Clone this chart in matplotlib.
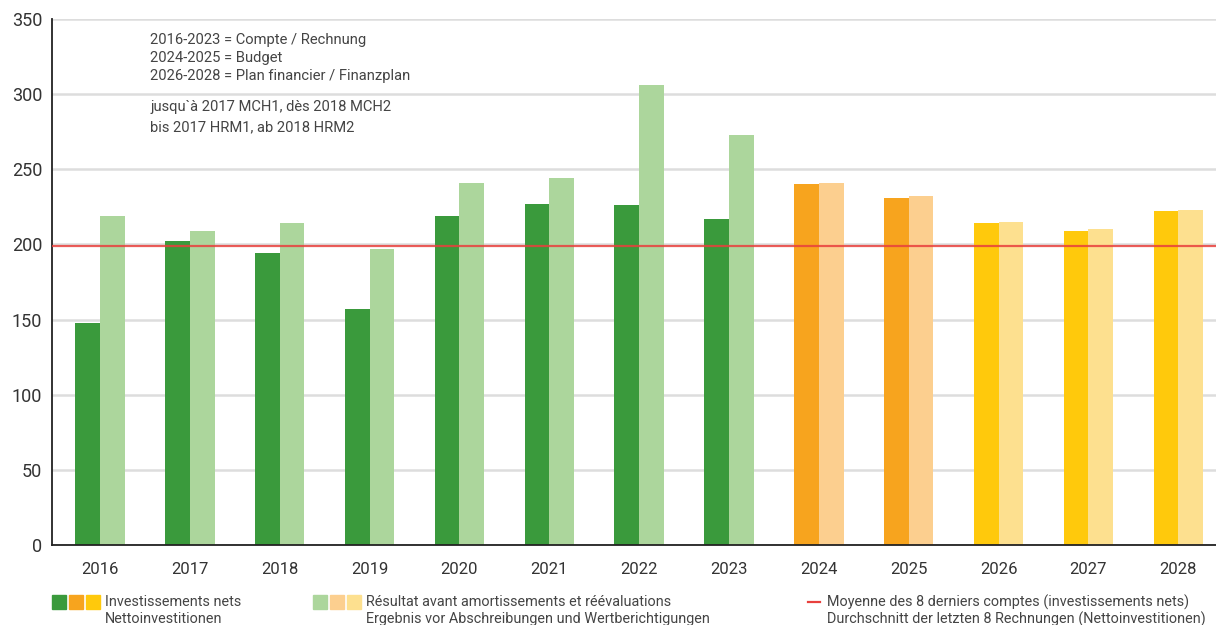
import matplotlib
matplotlib.use("Agg")
import matplotlib.pyplot as plt
import numpy as np
from matplotlib.patches import Rectangle

plt.rcParams["font.family"] = ["Roboto", "DejaVu Sans"]

years = ["2016", "2017", "2018", "2019", "2020", "2021", "2022",
         "2023", "2024", "2025", "2026", "2027", "2028"]
net_invest = [148, 202, 194, 157, 219, 227, 226, 217, 240, 231, 214, 209, 222]
self_fin = [219, 209, 214, 197, 241, 244, 306, 273, 241, 232, 215, 210, 223]
n_accounts = 8  # last 8 accounts -> average line

# compte / budget / plan financier
dark_cols = ["#3a9a3c"] * 8 + ["#f7a41e"] * 2 + ["#ffc90c"] * 3
light_cols = ["#acd69c"] * 8 + ["#fccf8f"] * 2 + ["#fde08f"] * 3

W, H = 1216, 625
fig = plt.figure(figsize=(W / 100, H / 100), dpi=100)
ax = fig.add_axes([52 / W, (H - 545) / H, 1 - 52 / W, (545 - 19) / H])

x = np.arange(len(years))
bw = 0.275
ax.bar(x - bw / 2, net_invest, bw, color=dark_cols, zorder=2)
ax.bar(x + bw / 2, self_fin, bw, color=light_cols, zorder=2)

avg = np.mean(net_invest[:n_accounts])
ax.axhline(avg, color="#e8403d", lw=1.6, alpha=0.85, zorder=3)

ax.set_ylim(0, 350)
ax.set_xlim(-0.534, 12.42)
ax.set_yticks(range(0, 351, 50))
ax.set_xticks(x)
ax.set_xticklabels(years)
ax.grid(axis="y", color="#dddddd", lw=1.8, zorder=0)
ax.set_axisbelow(True)
for s in ["top", "right"]:
    ax.spines[s].set_visible(False)
ax.spines["left"].set_color("#222222")
ax.spines["bottom"].set_color("#222222")
ax.spines["left"].set_linewidth(1.3)
ax.spines["bottom"].set_linewidth(1.3)
ax.tick_params(axis="x", length=0, labelsize=12, colors="#333333", pad=12)
ax.tick_params(axis="y", length=0, labelsize=13, colors="#333333", pad=7)

txt = "#444444"
fs = 10.6
notes = ["2016-2023 = Compte / Rechnung", "2024-2025 = Budget",
         "2026-2028 = Plan financier / Finanzplan"]
for i, s in enumerate(notes):
    fig.text(150 / W, 1 - (40 + 18 * i) / H, s, fontsize=fs, color=txt, va="center")
fig.text(150 / W, 1 - 107 / H, "jusqu`à 2017 MCH1, dès 2018 MCH2", fontsize=fs, color=txt, va="center")
fig.text(150 / W, 1 - 127 / H, "bis 2017 HRM1, ab 2018 HRM2", fontsize=fs, color=txt, va="center")


def swatches(x0, cols):
    for j, c in enumerate(cols):
        fig.add_artist(Rectangle(((x0 + 17 * j) / W, 1 - 609 / H), 14 / W, 14 / H,
                                 transform=fig.transFigure, color=c))


lfs = 10.4
swatches(52, ["#3a9a3c", "#f7a41e", "#ffc90c"])
fig.text(105 / W, 1 - 602 / H, "Investissements nets", fontsize=lfs, color=txt, va="center")
fig.text(105 / W, 1 - 619 / H, "Nettoinvestitionen", fontsize=lfs, color=txt, va="center")

swatches(313, ["#acd69c", "#fccf8f", "#fde08f"])
fig.text(366 / W, 1 - 602 / H, "Résultat avant amortissements et réévaluations", fontsize=lfs, color=txt, va="center")
fig.text(366 / W, 1 - 619 / H, "Ergebnis vor Abschreibungen und Wertberichtigungen", fontsize=lfs, color=txt, va="center")

fig.add_artist(plt.Line2D([808 / W, 820 / W], [1 - 602 / H] * 2, transform=fig.transFigure,
                          color="#e8403d", lw=1.6))
fig.text(827 / W, 1 - 602 / H, "Moyenne des 8 derniers comptes (investissements nets)", fontsize=lfs, color=txt, va="center")
fig.text(827 / W, 1 - 619 / H, "Durchschnitt der letzten 8 Rechnungen (Nettoinvestitionen)", fontsize=lfs, color=txt, va="center")

fig.savefig("out.png", dpi=100)
